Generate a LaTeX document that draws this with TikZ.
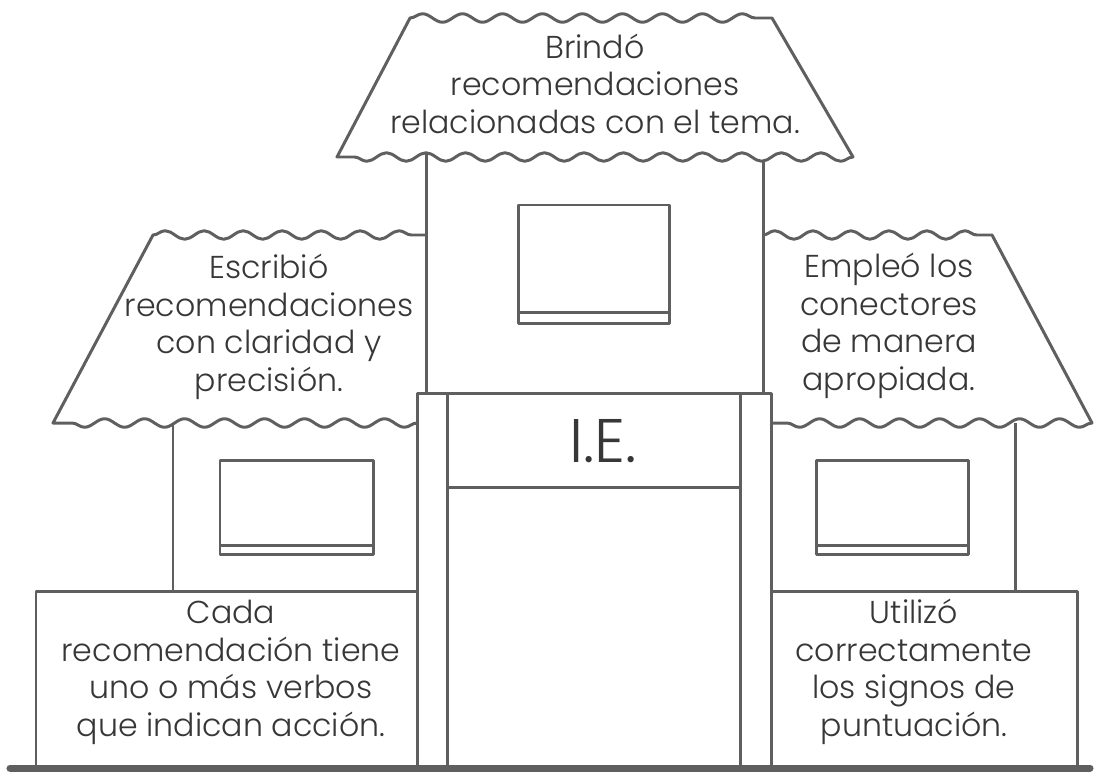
\documentclass[tikz,border=0pt]{standalone}
\usepackage{fontspec}
\setmainfont{Poppins Light}
\usetikzlibrary{decorations.pathmorphing}
\definecolor{wallgray}{RGB}{95,95,95}
\definecolor{inkgray}{RGB}{55,55,55}
\tikzset{
    wall/.style={draw=wallgray, line width=1.7pt, line join=round},
    wavy/.style={decorate, decoration={snake, segment length=#1, amplitude=0.085cm}},
    note/.style={text=inkgray, align=center, anchor=base, inner sep=0pt, font=\fontsize{18}{21.3}\selectfont}
}
\begin{document}
\begin{tikzpicture}[x=0.02cm, y=-0.02cm]
        \useasboundingbox (0,0) rectangle (1097,771);
        % Walls of the middle building
        \draw[wall] (426,150) -- (426,393);
        \draw[wall] (763,150) -- (763,393);
        % Top roof
        \draw[wall, fill=white] (410,18) decorate[wavy=0.8cm] {-- (772,18)} -- (853,157)
            decorate[wavy=0.79cm] {-- (337,157)} -- cycle;
        % Side roofs
        \draw[wall] (417,423) decorate[wavy=0.8cm] {-- (53,423)} -- (153,235)
            decorate[wavy=0.78cm] {-- (426,235)};
        \draw[wall] (763,235) decorate[wavy=0.76cm] {-- (992,235)} -- (1092,423)
            decorate[wavy=0.8cm] {-- (771,423)};
        % Walls of the side houses
        \draw[wall] (173,423) -- (173,591);
        \draw[wall] (1015,423) -- (1015,591);
        \draw[wall] (36,766) -- (36,591) -- (417,591);
        \draw[wall] (771,591) -- (1077,591) -- (1077,766);
        % Windows
        \draw[wall] (518,205) rectangle (669,323);
        \draw[wall] (518,312) -- (669,312);
        \draw[wall] (220,460) rectangle (373,554);
        \draw[wall] (220,545) -- (373,545);
        \draw[wall] (816,460) rectangle (968,554);
        \draw[wall] (816,545) -- (968,545);
        % Door frame and sign
        \draw[wall] (417,766) rectangle (771,393);
        \draw[wall] (447,393) -- (447,766);
        \draw[wall] (740,393) -- (740,766);
        \draw[wall] (447,487) -- (740,487);
        % Ground
        \draw[wallgray, line width=4pt, line cap=round] (10,768) -- (1090,768);
        % Texts
        \node[note] (toptext) at (595,133) {Brindó\\recomendaciones\\relacionadas con el tema.};
        \node[note] (lefttext) at (269,391) {Escribió\\recomendaciones\\con claridad y\\precisión.};
        \node[note] (righttext) at (889,390) {Empleó los\\conectores\\de manera\\apropiada.};
        \node[note] (boxlefttext) at (231,736) {Cada\\recomendación tiene\\uno o más verbos\\que indican acción.};
        \node[note] (boxrighttext) at (914,736) {Utilizó\\correctamente\\los signos de\\puntuación.};
        \node[note, font=\fontsize{35}{40}\selectfont] (sign) at (603,462) {I.E.};
    \end{tikzpicture}
\end{document}
